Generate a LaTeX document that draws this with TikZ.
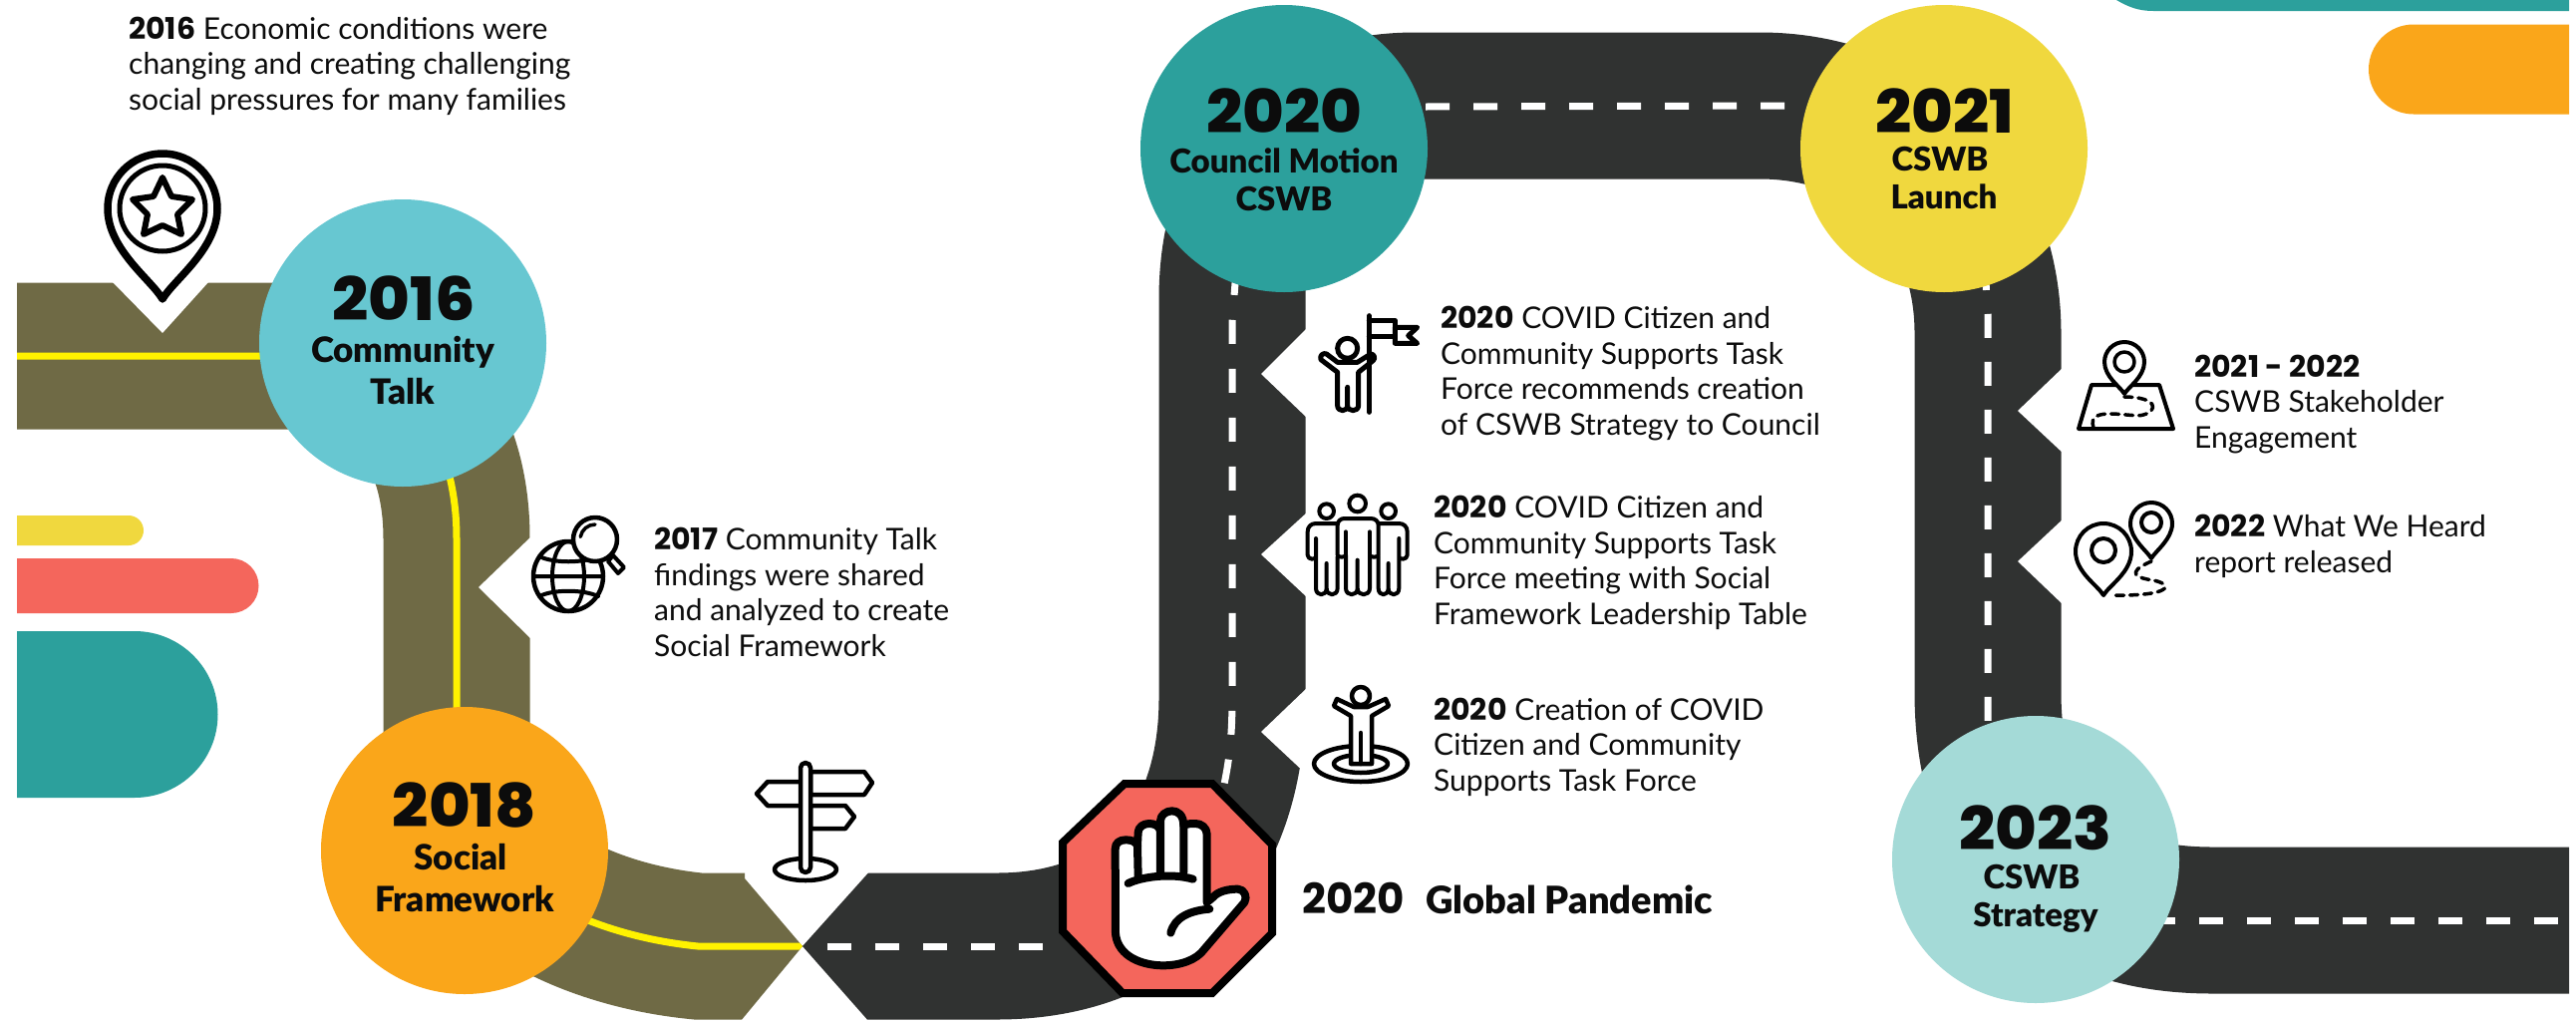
\documentclass[tikz,border=0pt]{standalone}
\usepackage{fontspec}
\setmainfont{Lato}
\newfontfamily\yrf{Poppins}
\newfontfamily\bigyr{Poppins ExtraBold}[FakeStretch=1.06]
\newfontfamily\lbf{Lato Black}
\definecolor{olive}{HTML}{6F6A45}
\definecolor{asph}{HTML}{303231}
\definecolor{cA}{HTML}{67C7D1}
\definecolor{cB}{HTML}{FAA61A}
\definecolor{cC}{HTML}{2CA09C}
\definecolor{cD}{HTML}{F0D83E}
\definecolor{cE}{HTML}{A4DAD7}
\definecolor{coral}{HTML}{F4665C}
\definecolor{ink}{HTML}{0C0C0C}
\newcommand{\yr}[1]{{\yrf\bfseries\fontsize{30}{35.4}\selectfont #1}}
\newcommand{\pinpath}[4]{(#1,#4) .. controls ({#1-0.2*#3},{#4-0.35*#3}) and ({#1-#3},{#2+0.75*#3}) .. ({#1-#3},#2) arc[start angle=180,end angle=360,radius=#3] .. controls ({#1+#3},{#2+0.75*#3}) and ({#1+0.2*#3},{#4-0.35*#3}) .. (#1,#4) -- cycle}
\tikzset{
 roadline/.style={line width=147pt},
 midA/.style={draw=yellow,line width=7pt},
 midB/.style={draw=white,line width=7pt,dash pattern=on 24pt off 24pt},
 midC/.style={draw=white,line width=7pt,dash pattern=on 24pt off 25pt},
 disc/.style={circle,minimum size=#1,inner sep=0pt},
 disc/.default=288pt,
 year/.style={font=\bigyr\fontsize{60}{60}\selectfont,anchor=base,text=ink},
 lab/.style={font=\lbf\fontsize{33}{40}\selectfont,anchor=base,text=ink},
 labL/.style={font=\lbf\fontsize{35}{40}\selectfont,anchor=base,text=ink},
 body/.style={font=\fontsize{30}{35.4}\selectfont,align=left,anchor=base west,text=ink,inner sep=0pt},
 ic/.style={draw=black,line width=5pt,line cap=round,line join=round,fill=white},
 icn/.style={draw=black,line width=5pt,line cap=round,line join=round},
 notch/.style={fill=white,draw=none},
}
\begin{document}
\begin{tikzpicture}[x=1pt,y=-1pt]
\useasboundingbox (0,0) rectangle (2584,1026);
\fill[white] (0,0) rectangle (2584,1026);
% side blobs
\fill[cD] (17,517) -- (129,517) arc[start angle=270,end angle=450,radius=15] -- (17,547) -- cycle;
\fill[coral] (17,560) -- (232,560) arc[start angle=270,end angle=450,radius=27.5] -- (17,615) -- cycle;
\fill[cC] (17,633) -- (135,633) arc[start angle=270,end angle=450,radius=83.5] -- (17,800) -- cycle;
\fill[cC] (2123,0) .. controls (2135,7) and (2145,11) .. (2160,11) -- (2577,11) -- (2577,0) -- cycle;
\fill[cB] (2577,24.5) -- (2421,24.5) arc[start angle=270,end angle=90,radius=45] -- (2577,114.5) -- cycle;
% olive road
\begin{scope}
\clip (0,0) -- (747,0) -- (747,881) -- (805,949) -- (738,1030) -- (0,1030) -- cycle;
\path[draw=olive,roadline] (17,357) -- (300,357) .. controls (400,357) and (458,430) .. (458,540) -- (458,780) .. controls (458,860) and (560,935) .. (700,949) -- (810,949);
\path[midA] (17,357) -- (300,357) .. controls (400,357) and (458,430) .. (458,540) -- (458,780) .. controls (458,860) and (560,935) .. (700,949) -- (805,949);
\end{scope}
\fill[notch] (112,282) -- (163,334) -- (210,282) -- cycle;
\fill[notch] (533,538) -- (480,589) -- (533,641) -- cycle;
% asphalt road
\begin{scope}
\clip (805,949) -- (875,871) -- (1000,0) -- (2584,0) -- (2584,1026) -- (873,1026) -- cycle;
\path[draw=asph,roadline] (800,949) -- (1000,949) .. controls (1150,949) and (1236,850) .. (1236,700) -- (1236,300) .. controls (1236,180) and (1300,106) .. (1420,106) -- (1765,106) .. controls (1900,106) and (1994,200) .. (1994,334) -- (1994,694) .. controls (1994,850) and (2080,923) .. (2219,923) -- (2577,923);
\end{scope}
\fill[notch] (1311,329) -- (1265,375) -- (1311,419) -- cycle;
\fill[notch] (1311,514) -- (1265,556) -- (1311,599) -- cycle;
\fill[notch] (1311,690) -- (1265,734) -- (1311,777) -- (1320,777) -- (1320,690) -- cycle;
\fill[notch] (2070,368) -- (2024,412) -- (2070,455) -- cycle;
\fill[notch] (2070,520) -- (2024,563) -- (2070,607) -- cycle;
% centre marks
\path[midB] (830,949) -- (1060,949);
\path[midC] (1240,272) -- (1236,321) -- (1236,700) .. controls (1236,745) and (1232,770) .. (1225,800);
\path[midB] (1430,107) -- (1791,106);
\path[midB] (1991,267) -- (1994,315) -- (1994,723);
\path[midB] (2158,923) -- (2570,923);
% circles
\node[disc,fill=cA] (c16) at (404,344) {};
\node[disc,fill=cB] (c18) at (466,853) {};
\node[disc,fill=cC] (c20) at (1288,149) {};
\node[disc,fill=cD] (c21) at (1950,149) {};
\node[disc,fill=cE] (c23) at (2042,862) {};
\node[year] (y16) at (405,321) {2016};
\node[labL] (l16a) at (404,363) {Community};
\node[labL] (l16b) at (404,405) {Talk};
\node[year] (y18) at (466,829) {2018};
\node[labL] (l18a) at (462,872) {Social};
\node[labL] (l18b) at (466,914) {Framework};
\node[year] (y20) at (1288,133) {2020};
\node[lab] (l20a) at (1288,173) {Council Motion};
\node[lab] (l20b) at (1288,211) {CSWB};
\node[year] (y21) at (1951,133) {2021};
\node[lab] (l21a) at (1946,171) {CSWB};
\node[lab] (l21b) at (1950,209) {Launch};
\node[year] (y23) at (2042,852) {2023};
\node[lab] (l23a) at (2038,891) {CSWB};
\node[lab] (l23b) at (2042,929) {Strategy};
% body text
\node[body] (t16) at (129,110) {\yr{2016} Economic conditions were\\changing and creating challenging\\social pressures for many families};
\node[body] (t17) at (656,658) {\yr{2017} Community Talk\\findings were shared\\and analyzed to create\\Social Framework};
\node[body] (t20a) at (1445,436) {\yr{2020} COVID Citizen and\\Community Supports Task\\Force recommends creation\\of CSWB Strategy to Council};
\node[body] (t20b) at (1438,626) {\yr{2020} COVID Citizen and\\Community Supports Task\\Force meeting with Social\\Framework Leadership Table};
\node[body] (t20c) at (1438,793) {\yr{2020} Creation of COVID\\Citizen and Community\\Supports Task Force};
\node[body] (t21) at (2201,449) {\yr{2021 {-} 2022}\\CSWB Stakeholder\\Engagement};
\node[body] (t22) at (2201,574) {\yr{2022} What We Heard\\report released};
\node[anchor=base west,inner sep=0pt,text=ink] (tgp) at (1306,916) {\yrf\bfseries\fontsize{42}{42}\selectfont 2020};
\node[anchor=base west,inner sep=0pt,text=ink] (tgq) at (1430,916) {\lbf\fontsize{38}{40}\selectfont Global Pandemic};
% stop sign
\draw[fill=coral,draw=black,line width=8pt,line join=miter] (1128,786) -- (1216,786) -- (1276,847) -- (1276,936) -- (1216,996) -- (1126,996) -- (1066,934) -- (1066,845) -- cycle;
\begin{scope}[shift={(1040,770)},x=0.3333pt,y=-0.3333pt]
\draw[ic,line width=8pt] (237,500) -- (236,245) .. controls (236,225) and (250,217) .. (268,217) .. controls (285,217) and (298,222) .. (303,235) -- (305,195) .. controls (305,178) and (322,168) .. (338,168) .. controls (355,168) and (368,175) .. (372,190) -- (372,160) .. controls (372,142) and (390,130) .. (407,130) .. controls (425,130) and (442,142) .. (442,175) .. controls (450,168) and (465,168) .. (477,168) .. controls (495,168) and (512,180) .. (512,200) -- (512,405) -- (530,390) .. controls (545,372) and (575,365) .. (605,365) .. controls (625,365) and (635,390) .. (625,405) -- (505,545) .. controls (480,580) and (430,595) .. (380,595) .. controls (320,595) and (245,570) .. (237,500) -- cycle;
\draw[icn,line width=8pt] (303,235) -- (305,325) (372,190) -- (372,315) (442,175) -- (442,315);
\draw[icn,line width=8pt] (275,348) .. controls (310,330) and (400,315) .. (470,335);
\draw[icn,line width=8pt] (403,497) .. controls (415,450) and (460,430) .. (520,425);
\end{scope}
% pin star
\draw[ic,line width=7.5pt] \pinpath{163}{209}{55}{300};
\draw[ic,line width=5pt] (163,209) circle[radius=43];
\draw[icn,line width=6pt] (163,178) -- (172,197) -- (193,200) -- (178,215) -- (182,235) -- (163,226) -- (144,235) -- (148,215) -- (133,200) -- (154,197) -- cycle;
% globe and lens
\draw[icn,line width=4.5pt] (570,578) circle[radius=35];
\draw[icn,line width=4pt] (570,578) ellipse[x radius=16,y radius=35] (535,578) -- (605,578) (541,558) .. controls (555,565) and (585,565) .. (600,558) (541,598) .. controls (555,591) and (585,591) .. (600,598);
\draw[ic,line width=4.5pt] (597,541) circle[radius=22];
\draw[icn,line width=3.5pt] (597,526) arc[start angle=270,end angle=190,radius=15];
\draw[ic,line width=4pt] (610,563) -- (615,557) -- (626,569) -- (620,575) -- cycle;
% signpost
\draw[ic,line width=4.5pt] (808,872) ellipse[x radius=31,y radius=11];
\draw[ic,line width=4.5pt] (803,808) -- (770,808) -- (759,796) -- (770,784) -- (803,784);
\draw[ic,line width=4.5pt] (813,774) -- (867,774) -- (875,785) -- (867,797) -- (813,797) -- cycle;
\draw[ic,line width=4.5pt] (813,808) -- (848,808) -- (857,819) -- (848,831) -- (813,831) -- cycle;
\draw[ic,line width=4.5pt] (803,770) arc[start angle=180,end angle=360,radius=5] -- (813,870) arc[start angle=0,end angle=180,radius=5] -- cycle;
% flag person
\begin{scope}[shift={(1300,300)},x=0.3333pt,y=-0.3333pt]
\draw[icn] (220,50) -- (220,340);
\draw[icn] (220,65) -- (298,65) -- (298,113) -- (220,113);
\draw[icn] (298,85) -- (365,85) -- (338,110) -- (365,133) -- (298,133) -- cycle;
\draw[icn] (155,148) circle[radius=30];
\draw[icn] (125,220) -- (75,182) .. controls (70,170) and (82,160) .. (92,165) -- (125,190) -- (185,190) -- (225,165) .. controls (235,165) and (240,178) .. (232,185) -- (188,220) -- (188,320) .. controls (188,340) and (155,340) .. (155,320) -- (155,265) -- (155,320) .. controls (155,340) and (125,340) .. (125,320) -- cycle;
\end{scope}
% three people
\begin{scope}[shift={(1300,490)},x=0.3333pt,y=-0.3333pt]
\draw[icn,line width=4pt] (185,45) circle[radius=25] (92,68) circle[radius=22] (278,68) circle[radius=22];
\draw[icn,line width=4pt] (125,200) -- (125,110) .. controls (125,98) and (135,90) .. (145,90) -- (225,90) .. controls (238,90) and (248,98) .. (248,110) -- (248,200) .. controls (248,208) and (222,208) .. (222,200) -- (222,300) .. controls (222,325) and (185,325) .. (185,300) -- (185,215) -- (185,300) .. controls (185,325) and (150,325) .. (150,300) -- (150,200) .. controls (150,208) and (125,208) .. (125,200);
\draw[icn,line width=4pt] (150,130) -- (150,200) (222,130) -- (222,200);
\draw[icn,line width=4pt] (125,105) -- (60,105) .. controls (45,105) and (35,115) .. (35,130) -- (35,200) .. controls (35,215) and (60,215) .. (60,205) -- (60,150) -- (60,300) .. controls (60,325) and (92,325) .. (92,300) -- (92,225) -- (92,300) .. controls (92,325) and (125,325) .. (125,300) -- (125,205);
\draw[icn,line width=4pt] (248,105) -- (310,105) .. controls (325,105) and (335,115) .. (335,130) -- (335,200) .. controls (335,215) and (310,215) .. (310,205) -- (310,150) -- (310,300) .. controls (310,325) and (278,325) .. (278,300) -- (278,225) -- (278,300) .. controls (278,325) and (248,325) .. (248,300) -- (248,205);
\end{scope}
% person on target
\draw[icn,line width=4.5pt] (1365,766) ellipse[x radius=47,y radius=18];
\draw[icn,line width=4.5pt] (1365,766) ellipse[x radius=27,y radius=9];
\draw[ic,line width=4.5pt] (1355,766) -- (1355,718) -- (1338,708) -- (1341,701) -- (1358,709) -- (1372,709) -- (1390,701) -- (1393,708) -- (1376,718) -- (1376,766) -- cycle;
\draw[icn,line width=4.5pt] (1365,735) -- (1365,766);
\draw[ic,line width=4.5pt] (1365,698) circle[radius=9];
% pin and map
\draw[ic,line width=4pt] (2098,386) -- (2166,386) -- (2180,430) -- (2085,430) -- cycle;
\draw[ic,line width=4pt] \pinpath{2131}{363}{20}{395};
\draw[icn,line width=3.5pt] (2131,363) circle[radius=10];
\draw[icn,line width=3.5pt,dash pattern=on 8pt off 6pt] (2100,429) .. controls (2092,405) and (2140,420) .. (2150,416) .. controls (2165,412) and (2165,398) .. (2130,398);
% two pins
\draw[ic,line width=4pt] \pinpath{2110}{553}{28}{597};
\draw[icn,line width=4pt] (2110,552) circle[radius=12];
\draw[ic,line width=4pt] \pinpath{2158}{525}{21}{560};
\draw[icn,line width=4pt] (2158,524) circle[radius=10];
\draw[icn,line width=3.5pt,dash pattern=on 8pt off 6pt] (2158,563) .. controls (2130,575) and (2145,580) .. (2160,582) .. controls (2180,586) and (2180,598) .. (2118,597);
\end{tikzpicture}
\end{document}
